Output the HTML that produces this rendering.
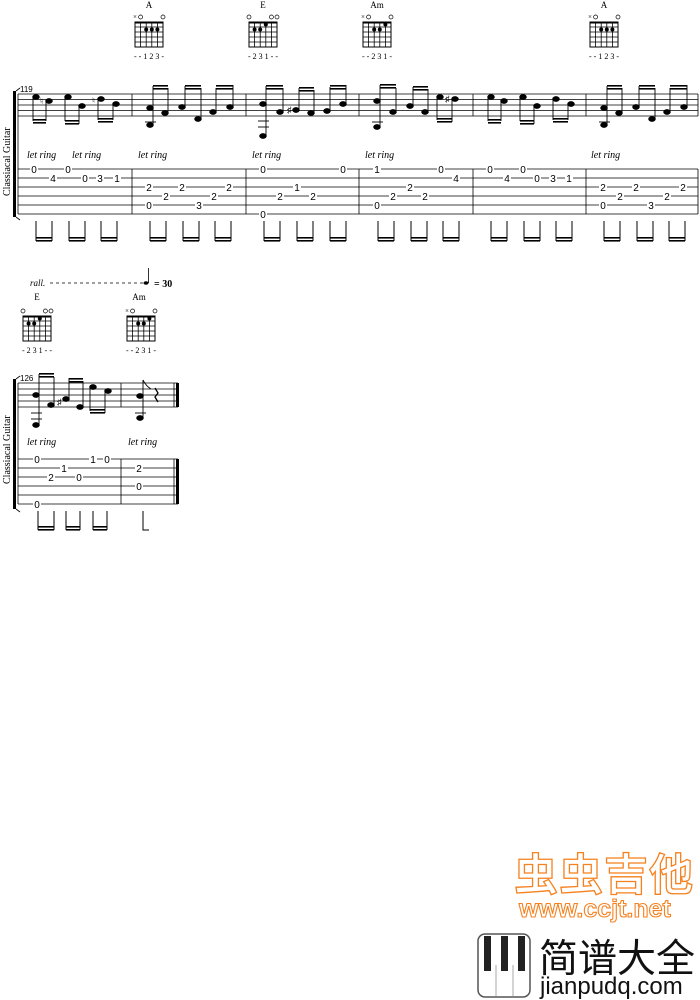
<!DOCTYPE html>
<html><head><meta charset="utf-8"><style>
html,body{margin:0;padding:0;background:#fff;}
svg{display:block}
.serif{font-family:"Liberation Serif",serif;}
.sans{font-family:"Liberation Sans",sans-serif;}
.lr{font-family:"Liberation Serif",serif;font-style:italic;font-size:10px;}
.cjk{font-family:"Noto Sans CJK SC","WenQuanYi Zen Hei",sans-serif;}
</style></head><body>
<svg width="700" height="1000" viewBox="0 0 700 1000" xmlns="http://www.w3.org/2000/svg">
<defs>
<g id="chord">
  <rect x="-14" y="0" width="28" height="25" fill="none" stroke="#000" stroke-width="1"/>
  <line x1="-14" y1="0.5" x2="14" y2="0.5" stroke="#000" stroke-width="2"/>
  <line x1="-8.4" y1="0" x2="-8.4" y2="25" stroke="#000" stroke-width="0.8"/>
  <line x1="-2.8" y1="0" x2="-2.8" y2="25" stroke="#000" stroke-width="0.8"/>
  <line x1="2.8" y1="0" x2="2.8" y2="25" stroke="#000" stroke-width="0.8"/>
  <line x1="8.4" y1="0" x2="8.4" y2="25" stroke="#000" stroke-width="0.8"/>
  <line x1="-14" y1="5" x2="14" y2="5" stroke="#000" stroke-width="0.8"/>
  <line x1="-14" y1="10" x2="14" y2="10" stroke="#000" stroke-width="0.8"/>
  <line x1="-14" y1="15" x2="14" y2="15" stroke="#000" stroke-width="0.8"/>
  <line x1="-14" y1="20" x2="14" y2="20" stroke="#000" stroke-width="0.8"/>
</g>
</defs>

<g class="serif" font-size="9" text-anchor="middle" fill="#000">
<text x="149" y="8">A</text><text x="263" y="8">E</text><text x="377" y="8">Am</text><text x="604" y="8">A</text>
<text x="37" y="300">E</text><text x="139" y="300">Am</text>
</g>
<g class="serif" transform="translate(149,22)"><use href="#chord"/><circle cx="-2.8" cy="7.5" r="2"/><circle cx="2.8" cy="7.5" r="2"/><circle cx="8.4" cy="7.5" r="2"/>
<text x="-14" y="-3" font-size="7" text-anchor="middle">×</text><circle cx="-8.4" cy="-5" r="2" fill="none" stroke="#000" stroke-width=".7"/><circle cx="14" cy="-5" r="2" fill="none" stroke="#000" stroke-width=".7"/>
<text x="0" y="37" font-size="8" text-anchor="middle">- - 1 2 3 -</text></g>
<g class="serif" transform="translate(263,22)"><use href="#chord"/><circle cx="-8.4" cy="7.5" r="2"/><circle cx="-2.8" cy="7.5" r="2"/><circle cx="2.8" cy="2.5" r="2"/>
<circle cx="-14" cy="-5" r="2" fill="none" stroke="#000" stroke-width=".7"/><circle cx="8.4" cy="-5" r="2" fill="none" stroke="#000" stroke-width=".7"/><circle cx="14" cy="-5" r="2" fill="none" stroke="#000" stroke-width=".7"/>
<text x="0" y="37" font-size="8" text-anchor="middle">- 2 3 1 - -</text></g>
<g class="serif" transform="translate(377,22)"><use href="#chord"/><circle cx="-2.8" cy="7.5" r="2"/><circle cx="2.8" cy="7.5" r="2"/><circle cx="8.4" cy="2.5" r="2"/>
<text x="-14" y="-3" font-size="7" text-anchor="middle">×</text><circle cx="-8.4" cy="-5" r="2" fill="none" stroke="#000" stroke-width=".7"/><circle cx="14" cy="-5" r="2" fill="none" stroke="#000" stroke-width=".7"/>
<text x="0" y="37" font-size="8" text-anchor="middle">- - 2 3 1 -</text></g>
<g class="serif" transform="translate(604,22)"><use href="#chord"/><circle cx="-2.8" cy="7.5" r="2"/><circle cx="2.8" cy="7.5" r="2"/><circle cx="8.4" cy="7.5" r="2"/>
<text x="-14" y="-3" font-size="7" text-anchor="middle">×</text><circle cx="-8.4" cy="-5" r="2" fill="none" stroke="#000" stroke-width=".7"/><circle cx="14" cy="-5" r="2" fill="none" stroke="#000" stroke-width=".7"/>
<text x="0" y="37" font-size="8" text-anchor="middle">- - 1 2 3 -</text></g>
<g class="serif" transform="translate(37,316)"><use href="#chord"/><circle cx="-8.4" cy="7.5" r="2"/><circle cx="-2.8" cy="7.5" r="2"/><circle cx="2.8" cy="2.5" r="2"/>
<circle cx="-14" cy="-5" r="2" fill="none" stroke="#000" stroke-width=".7"/><circle cx="8.4" cy="-5" r="2" fill="none" stroke="#000" stroke-width=".7"/><circle cx="14" cy="-5" r="2" fill="none" stroke="#000" stroke-width=".7"/>
<text x="0" y="37" font-size="8" text-anchor="middle">- 2 3 1 - -</text></g>
<g class="serif" transform="translate(141,316)"><use href="#chord"/><circle cx="-2.8" cy="7.5" r="2"/><circle cx="2.8" cy="7.5" r="2"/><circle cx="8.4" cy="2.5" r="2"/>
<text x="-14" y="-3" font-size="7" text-anchor="middle">×</text><circle cx="-8.4" cy="-5" r="2" fill="none" stroke="#000" stroke-width=".7"/><circle cx="14" cy="-5" r="2" fill="none" stroke="#000" stroke-width=".7"/>
<text x="0" y="37" font-size="8" text-anchor="middle">- - 2 3 1 -</text></g>

<!-- SYSTEM 1 -->
<g stroke="#000" stroke-width="0.8">
<line x1="18" y1="94" x2="698" y2="94"/><line x1="18" y1="99.5" x2="698" y2="99.5"/><line x1="18" y1="105" x2="698" y2="105"/><line x1="18" y1="110.5" x2="698" y2="110.5"/><line x1="18" y1="116" x2="698" y2="116"/>
<line x1="18" y1="169" x2="698" y2="169"/><line x1="18" y1="178" x2="698" y2="178"/><line x1="18" y1="187" x2="698" y2="187"/><line x1="18" y1="196" x2="698" y2="196"/><line x1="18" y1="205" x2="698" y2="205"/><line x1="18" y1="214" x2="698" y2="214"/>
<line x1="18" y1="94" x2="18" y2="214"/>
<line x1="132" y1="94" x2="132" y2="116"/><line x1="246" y1="94" x2="246" y2="116"/><line x1="359" y1="94" x2="359" y2="116"/><line x1="473" y1="94" x2="473" y2="116"/><line x1="586" y1="94" x2="586" y2="116"/><line x1="698" y1="94" x2="698" y2="116"/>
<line x1="132" y1="169" x2="132" y2="214"/><line x1="246" y1="169" x2="246" y2="214"/><line x1="359" y1="169" x2="359" y2="214"/><line x1="473" y1="169" x2="473" y2="214"/><line x1="586" y1="169" x2="586" y2="214"/><line x1="698" y1="169" x2="698" y2="214"/>
</g>
<rect x="13" y="91" width="3" height="126" fill="#000"/>
<path d="M16 91 L20 88 M16 217 L20 220" stroke="#000" stroke-width=".8"/>
<text class="sans" x="20" y="92" font-size="8">119</text>
<text class="serif" transform="translate(10,196) rotate(-90)" font-size="10">Classiacal Guitar</text>

<g class="serif" fill="#000" stroke="#000" stroke-width="0.9">
<ellipse cx="36" cy="97" rx="3.3" ry="2.4"/><ellipse cx="49" cy="101" rx="3.3" ry="2.4"/><line x1="33" y1="97" x2="33" y2="121"/><line x1="46" y1="101" x2="46" y2="121"/><rect x="33" y="119" width="13" height="1.6" stroke="none"/><rect x="33" y="122" width="13" height="1.6" stroke="none"/>
<ellipse cx="68" cy="97" rx="3.3" ry="2.4"/><ellipse cx="82" cy="106" rx="3.3" ry="2.4"/><line x1="65" y1="97" x2="65" y2="121"/><line x1="79" y1="106" x2="79" y2="124"/><rect x="65" y="120" width="14" height="1.6" stroke="none"/><rect x="65" y="123" width="14" height="1.6" stroke="none"/>
<ellipse cx="101" cy="99" rx="3.3" ry="2.4"/><ellipse cx="116" cy="104" rx="3.3" ry="2.4"/><line x1="98" y1="99" x2="98" y2="120"/><line x1="113" y1="104" x2="113" y2="120"/><rect x="98" y="118" width="15" height="1.6" stroke="none"/><rect x="98" y="121" width="15" height="1.6" stroke="none"/>
<ellipse cx="150" cy="108" rx="3.3" ry="2.4"/><ellipse cx="150" cy="125" rx="3.3" ry="2.4"/><ellipse cx="165" cy="113" rx="3.3" ry="2.4"/><line x1="153" y1="125" x2="153" y2="86"/><line x1="168" y1="113" x2="168" y2="88"/><line x1="145" y1="122" x2="156" y2="122"/><rect x="153" y="85" width="15" height="1.6" stroke="none"/><rect x="153" y="88" width="15" height="1.6" stroke="none"/>
<ellipse cx="182" cy="107" rx="3.3" ry="2.4"/><ellipse cx="198" cy="119" rx="3.3" ry="2.4"/><line x1="185" y1="107" x2="185" y2="86"/><line x1="201" y1="119" x2="201" y2="88"/><rect x="185" y="85" width="16" height="1.6" stroke="none"/><rect x="185" y="88" width="16" height="1.6" stroke="none"/>
<ellipse cx="213" cy="112" rx="3.3" ry="2.4"/><ellipse cx="230" cy="107" rx="3.3" ry="2.4"/><line x1="216" y1="112" x2="216" y2="88"/><line x1="233" y1="107" x2="233" y2="85"/><rect x="216" y="85" width="17" height="1.6" stroke="none"/><rect x="216" y="88" width="17" height="1.6" stroke="none"/>
<ellipse cx="263" cy="104" rx="3.3" ry="2.4"/><ellipse cx="263" cy="136" rx="3.3" ry="2.4"/><line x1="266" y1="136" x2="266" y2="86"/><line x1="258" y1="121" x2="269" y2="121"/><line x1="258" y1="127" x2="269" y2="127"/>
<ellipse cx="280" cy="112" rx="3.3" ry="2.4"/><line x1="283" y1="112" x2="283" y2="88"/><rect x="266" y="85" width="17" height="1.6" stroke="none"/><rect x="266" y="88" width="17" height="1.6" stroke="none"/>
<text x="287" y="113" font-size="9" stroke="none">♯</text>
<ellipse cx="296" cy="110" rx="3.3" ry="2.4"/><ellipse cx="311" cy="113" rx="3.3" ry="2.4"/><line x1="299" y1="110" x2="299" y2="88"/><line x1="314" y1="113" x2="314" y2="90"/><rect x="299" y="87" width="15" height="1.6" stroke="none"/><rect x="299" y="90" width="15" height="1.6" stroke="none"/>
<ellipse cx="327" cy="111" rx="3.3" ry="2.4"/><ellipse cx="343" cy="104" rx="3.3" ry="2.4"/><line x1="330" y1="111" x2="330" y2="87"/><line x1="346" y1="104" x2="346" y2="85"/><rect x="330" y="85" width="16" height="1.6" stroke="none"/><rect x="330" y="88" width="16" height="1.6" stroke="none"/>
<ellipse cx="377" cy="101" rx="3.3" ry="2.4"/><ellipse cx="377" cy="127" rx="3.3" ry="2.4"/><line x1="380" y1="127" x2="380" y2="85"/><line x1="372" y1="122" x2="383" y2="122"/>
<ellipse cx="393" cy="112" rx="3.3" ry="2.4"/><line x1="396" y1="112" x2="396" y2="88"/><rect x="380" y="84" width="16" height="1.6" stroke="none"/><rect x="380" y="87" width="16" height="1.6" stroke="none"/>
<ellipse cx="410" cy="106" rx="3.3" ry="2.4"/><ellipse cx="425" cy="112" rx="3.3" ry="2.4"/><line x1="413" y1="106" x2="413" y2="87"/><line x1="428" y1="112" x2="428" y2="89"/><rect x="413" y="86" width="15" height="1.6" stroke="none"/><rect x="413" y="89" width="15" height="1.6" stroke="none"/>
<ellipse cx="440" cy="97" rx="3.3" ry="2.4"/><ellipse cx="455" cy="99" rx="3.3" ry="2.4"/><line x1="437" y1="97" x2="437" y2="120"/><line x1="452" y1="99" x2="452" y2="122"/><rect x="437" y="118" width="15" height="1.6" stroke="none"/><rect x="437" y="121" width="15" height="1.6" stroke="none"/>
<text x="445" y="102" font-size="9" stroke="none">♯</text>
<ellipse cx="491" cy="97" rx="3.3" ry="2.4"/><ellipse cx="504" cy="101" rx="3.3" ry="2.4"/><line x1="488" y1="97" x2="488" y2="121"/><line x1="501" y1="101" x2="501" y2="121"/><rect x="488" y="119" width="13" height="1.6" stroke="none"/><rect x="488" y="122" width="13" height="1.6" stroke="none"/>
<ellipse cx="523" cy="97" rx="3.3" ry="2.4"/><ellipse cx="537" cy="106" rx="3.3" ry="2.4"/><line x1="520" y1="97" x2="520" y2="121"/><line x1="534" y1="106" x2="534" y2="124"/><rect x="520" y="120" width="14" height="1.6" stroke="none"/><rect x="520" y="123" width="14" height="1.6" stroke="none"/>
<ellipse cx="556" cy="99" rx="3.3" ry="2.4"/><ellipse cx="571" cy="104" rx="3.3" ry="2.4"/><line x1="553" y1="99" x2="553" y2="120"/><line x1="568" y1="104" x2="568" y2="120"/><rect x="553" y="118" width="15" height="1.6" stroke="none"/><rect x="553" y="121" width="15" height="1.6" stroke="none"/>
<ellipse cx="604" cy="108" rx="3.3" ry="2.4"/><ellipse cx="604" cy="125" rx="3.3" ry="2.4"/><ellipse cx="619" cy="113" rx="3.3" ry="2.4"/><line x1="607" y1="125" x2="607" y2="86"/><line x1="622" y1="113" x2="622" y2="88"/><line x1="599" y1="122" x2="610" y2="122"/><rect x="607" y="85" width="15" height="1.6" stroke="none"/><rect x="607" y="88" width="15" height="1.6" stroke="none"/>
<ellipse cx="636" cy="107" rx="3.3" ry="2.4"/><ellipse cx="652" cy="119" rx="3.3" ry="2.4"/><line x1="639" y1="107" x2="639" y2="86"/><line x1="655" y1="119" x2="655" y2="88"/><rect x="639" y="85" width="16" height="1.6" stroke="none"/><rect x="639" y="88" width="16" height="1.6" stroke="none"/>
<ellipse cx="667" cy="112" rx="3.3" ry="2.4"/><ellipse cx="684" cy="107" rx="3.3" ry="2.4"/><line x1="670" y1="112" x2="670" y2="88"/><line x1="687" y1="107" x2="687" y2="85"/><rect x="670" y="85" width="17" height="1.6" stroke="none"/><rect x="670" y="88" width="17" height="1.6" stroke="none"/>
<text x="40" y="104" font-size="9" stroke="none">♮</text>
<text x="92" y="103" font-size="8" stroke="none">♮</text>
</g>

<text x="27" y="158" class="lr">let ring</text><text x="72" y="158" class="lr">let ring</text><text x="138" y="158" class="lr">let ring</text><text x="252" y="158" class="lr">let ring</text><text x="365" y="158" class="lr">let ring</text><text x="591" y="158" class="lr">let ring</text>

<g class="sans" font-size="10" text-anchor="middle">
<g fill="#fff"><rect x="30" y="164" width="8" height="10"/><rect x="49" y="173" width="8" height="10"/><rect x="64" y="164" width="8" height="10"/><rect x="81" y="173" width="8" height="10"/><rect x="96" y="173" width="8" height="10"/><rect x="113" y="173" width="8" height="10"/>
<rect x="145" y="182" width="8" height="10"/><rect x="145" y="200" width="8" height="10"/><rect x="162" y="191" width="8" height="10"/><rect x="178" y="182" width="8" height="10"/><rect x="195" y="200" width="8" height="10"/><rect x="210" y="191" width="8" height="10"/><rect x="225" y="182" width="8" height="10"/>
<rect x="259" y="164" width="8" height="10"/><rect x="259" y="209" width="8" height="10"/><rect x="276" y="191" width="8" height="10"/><rect x="293" y="182" width="8" height="10"/><rect x="309" y="191" width="8" height="10"/><rect x="339" y="164" width="8" height="10"/>
<rect x="373" y="164" width="8" height="10"/><rect x="373" y="200" width="8" height="10"/><rect x="389" y="191" width="8" height="10"/><rect x="406" y="182" width="8" height="10"/><rect x="421" y="191" width="8" height="10"/><rect x="437" y="164" width="8" height="10"/><rect x="452" y="173" width="8" height="10"/>
<rect x="486" y="164" width="8" height="10"/><rect x="503" y="173" width="8" height="10"/><rect x="519" y="164" width="8" height="10"/><rect x="533" y="173" width="8" height="10"/><rect x="549" y="173" width="8" height="10"/><rect x="565" y="173" width="8" height="10"/>
<rect x="599" y="182" width="8" height="10"/><rect x="599" y="200" width="8" height="10"/><rect x="616" y="191" width="8" height="10"/><rect x="632" y="182" width="8" height="10"/><rect x="647" y="200" width="8" height="10"/><rect x="663" y="191" width="8" height="10"/><rect x="679" y="182" width="8" height="10"/>
</g>
<text x="34" y="173">0</text><text x="53" y="182">4</text><text x="68" y="173">0</text><text x="85" y="182">0</text><text x="100" y="182">3</text><text x="117" y="182">1</text>
<text x="149" y="191">2</text><text x="149" y="209">0</text><text x="166" y="200">2</text><text x="182" y="191">2</text><text x="199" y="209">3</text><text x="214" y="200">2</text><text x="229" y="191">2</text>
<text x="263" y="173">0</text><text x="263" y="218">0</text><text x="280" y="200">2</text><text x="297" y="191">1</text><text x="313" y="200">2</text><text x="343" y="173">0</text>
<text x="377" y="173">1</text><text x="377" y="209">0</text><text x="393" y="200">2</text><text x="410" y="191">2</text><text x="425" y="200">2</text><text x="441" y="173">0</text><text x="456" y="182">4</text>
<text x="490" y="173">0</text><text x="507" y="182">4</text><text x="523" y="173">0</text><text x="537" y="182">0</text><text x="553" y="182">3</text><text x="569" y="182">1</text>
<text x="603" y="191">2</text><text x="603" y="209">0</text><text x="620" y="200">2</text><text x="636" y="191">2</text><text x="651" y="209">3</text><text x="667" y="200">2</text><text x="683" y="191">2</text>
</g>

<g stroke="#000" stroke-width="1" fill="none">
<path d="M36 221V241M52 221V241M69 221V241M85 221V241M101 221V241M117 221V241M150 221V241M166 221V241M183 221V241M199 221V241M215 221V241M231 221V241M264 221V241M280 221V241M297 221V241M313 221V241M330 221V241M346 221V241M378 221V241M394 221V241M411 221V241M427 221V241M443 221V241M459 221V241M491 221V241M507 221V241M524 221V241M540 221V241M556 221V241M572 221V241M604 221V241M620 221V241M637 221V241M653 221V241M669 221V241M685 221V241"/>
</g>
<g fill="#000">
<rect x="36" y="237" width="16" height="1.6"/><rect x="36" y="240" width="16" height="1.6"/><rect x="69" y="237" width="16" height="1.6"/><rect x="69" y="240" width="16" height="1.6"/><rect x="101" y="237" width="16" height="1.6"/><rect x="101" y="240" width="16" height="1.6"/>
<rect x="150" y="237" width="16" height="1.6"/><rect x="150" y="240" width="16" height="1.6"/><rect x="183" y="237" width="16" height="1.6"/><rect x="183" y="240" width="16" height="1.6"/><rect x="215" y="237" width="16" height="1.6"/><rect x="215" y="240" width="16" height="1.6"/>
<rect x="264" y="237" width="16" height="1.6"/><rect x="264" y="240" width="16" height="1.6"/><rect x="297" y="237" width="16" height="1.6"/><rect x="297" y="240" width="16" height="1.6"/><rect x="330" y="237" width="16" height="1.6"/><rect x="330" y="240" width="16" height="1.6"/>
<rect x="378" y="237" width="16" height="1.6"/><rect x="378" y="240" width="16" height="1.6"/><rect x="411" y="237" width="16" height="1.6"/><rect x="411" y="240" width="16" height="1.6"/><rect x="443" y="237" width="16" height="1.6"/><rect x="443" y="240" width="16" height="1.6"/>
<rect x="491" y="237" width="16" height="1.6"/><rect x="491" y="240" width="16" height="1.6"/><rect x="524" y="237" width="16" height="1.6"/><rect x="524" y="240" width="16" height="1.6"/><rect x="556" y="237" width="16" height="1.6"/><rect x="556" y="240" width="16" height="1.6"/>
<rect x="604" y="237" width="16" height="1.6"/><rect x="604" y="240" width="16" height="1.6"/><rect x="637" y="237" width="16" height="1.6"/><rect x="637" y="240" width="16" height="1.6"/><rect x="669" y="237" width="16" height="1.6"/><rect x="669" y="240" width="16" height="1.6"/>
</g>

<!-- SYSTEM 2 -->
<text class="serif" x="30" y="286" font-size="9" font-style="italic">rall.</text>
<line x1="50" y1="283" x2="143" y2="283" stroke="#000" stroke-width=".8" stroke-dasharray="3,3"/>
<ellipse cx="146" cy="283" rx="2.5" ry="1.8" fill="#000"/><line x1="148.5" y1="283" x2="148.5" y2="268" stroke="#000" stroke-width=".8"/>
<text class="serif" x="154" y="287" font-size="10" font-weight="bold">= 30</text>

<g stroke="#000" stroke-width="0.8">
<line x1="18" y1="383" x2="178" y2="383"/><line x1="18" y1="389" x2="178" y2="389"/><line x1="18" y1="395" x2="178" y2="395"/><line x1="18" y1="401" x2="178" y2="401"/><line x1="18" y1="407" x2="178" y2="407"/>
<line x1="18" y1="459" x2="178" y2="459"/><line x1="18" y1="468" x2="178" y2="468"/><line x1="18" y1="477" x2="178" y2="477"/><line x1="18" y1="486" x2="178" y2="486"/><line x1="18" y1="495" x2="178" y2="495"/><line x1="18" y1="504" x2="178" y2="504"/>
<line x1="18" y1="383" x2="18" y2="504"/><line x1="121" y1="383" x2="121" y2="407"/><line x1="121" y1="459" x2="121" y2="504"/>
<line x1="174" y1="383" x2="174" y2="407"/><line x1="174" y1="459" x2="174" y2="504"/>
</g>
<rect x="176" y="383" width="3" height="24" fill="#000"/><rect x="176" y="459" width="3" height="45" fill="#000"/>
<rect x="13" y="379" width="3" height="130" fill="#000"/>
<path d="M16 379 L20 376 M16 509 L20 512" stroke="#000" stroke-width=".8"/>
<text class="sans" x="20" y="381" font-size="8">126</text>
<text class="serif" transform="translate(10,484) rotate(-90)" font-size="10">Classiacal Guitar</text>

<g class="serif" fill="#000" stroke="#000" stroke-width=".9">
<ellipse cx="36" cy="395" rx="3.3" ry="2.4"/><ellipse cx="36" cy="425" rx="3.3" ry="2.4"/><line x1="39" y1="425" x2="39" y2="374"/><line x1="31" y1="413" x2="42" y2="413"/><line x1="31" y1="419" x2="42" y2="419"/>
<ellipse cx="51" cy="405" rx="3.3" ry="2.4"/><line x1="54" y1="405" x2="54" y2="377"/><rect x="39" y="373" width="15" height="1.6" stroke="none"/><rect x="39" y="376" width="15" height="1.6" stroke="none"/>
<text x="57" y="405" font-size="9" stroke="none">♯</text>
<ellipse cx="66" cy="399" rx="3.3" ry="2.4"/><ellipse cx="80" cy="407" rx="3.3" ry="2.4"/><line x1="69" y1="399" x2="69" y2="378"/><line x1="83" y1="407" x2="83" y2="381"/><rect x="69" y="378" width="14" height="1.6" stroke="none"/><rect x="69" y="381" width="14" height="1.6" stroke="none"/>
<ellipse cx="93" cy="387" rx="3.3" ry="2.4"/><ellipse cx="108" cy="391" rx="3.3" ry="2.4"/><line x1="90" y1="387" x2="90" y2="411"/><line x1="105" y1="391" x2="105" y2="413"/><rect x="90" y="409" width="15" height="1.6" stroke="none"/><rect x="90" y="412" width="15" height="1.6" stroke="none"/>
<ellipse cx="140" cy="396" rx="3.3" ry="2.4"/><ellipse cx="140" cy="418" rx="3.3" ry="2.4"/><line x1="143" y1="418" x2="143" y2="380"/><line x1="135" y1="413" x2="146" y2="413"/>
<path d="M143 380 Q146 386 151 389" fill="none"/>
<path d="M155 388 L158 393 L155 397 L158 402" fill="none" stroke-width="1.3"/>
</g>
<text x="27" y="445" class="lr">let ring</text><text x="128" y="445" class="lr">let ring</text>
<g class="sans" font-size="10" text-anchor="middle">
<g fill="#fff"><rect x="33" y="454" width="8" height="10"/><rect x="47" y="472" width="8" height="10"/><rect x="60" y="463" width="8" height="10"/><rect x="75" y="472" width="8" height="10"/><rect x="89" y="454" width="8" height="10"/><rect x="103" y="454" width="8" height="10"/><rect x="33" y="499" width="8" height="10"/><rect x="135" y="463" width="8" height="10"/><rect x="135" y="481" width="8" height="10"/></g>
<text x="37" y="463">0</text><text x="51" y="481">2</text><text x="64" y="472">1</text><text x="79" y="481">0</text><text x="93" y="463">1</text><text x="107" y="463">0</text><text x="37" y="508">0</text><text x="139" y="472">2</text><text x="139" y="490">0</text>
</g>
<g stroke="#000" stroke-width="1" fill="none"><path d="M38 511V530M54 511V530M66 511V530M80 511V530M93 511V530M107 511V530M143 511V530H149"/></g>
<g fill="#000"><rect x="38" y="526" width="16" height="1.6"/><rect x="38" y="529" width="16" height="1.6"/><rect x="66" y="526" width="14" height="1.6"/><rect x="66" y="529" width="14" height="1.6"/><rect x="93" y="526" width="14" height="1.6"/><rect x="93" y="529" width="14" height="1.6"/></g>

<!-- watermark -->
<text class="cjk" x="514" y="890" font-size="44" font-weight="bold" fill="#fff" stroke="#f58220" stroke-width="1.3" letter-spacing="1">虫虫吉他</text>
<text class="sans" x="519" y="917" font-size="25" font-weight="bold" fill="#fff" stroke="#f58220" stroke-width="1.1">www.ccjt.net</text>
<rect x="478" y="934" width="52" height="63" rx="7" fill="#fff" stroke="#555" stroke-width="1.5"/>
<g stroke="#aaa" stroke-width="1"><line x1="496" y1="965" x2="496" y2="996"/><line x1="513" y1="965" x2="513" y2="996"/></g>
<rect x="484" y="936" width="7" height="35" fill="#222"/><rect x="501" y="936" width="7" height="35" fill="#222"/><rect x="518" y="936" width="7" height="35" fill="#222"/>
<text class="cjk" x="539" y="972" font-size="39" fill="#111">简谱大全</text>
<text class="sans" x="540" y="994" font-size="24" fill="#111">jianpudq.com</text>
</svg>
</body></html>
